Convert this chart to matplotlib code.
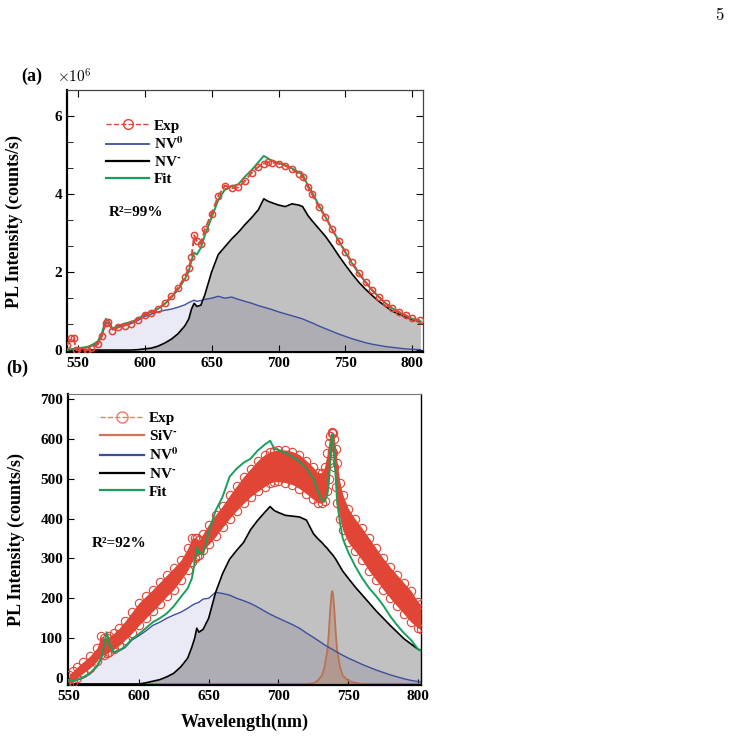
import numpy as np
import matplotlib.pyplot as plt
from matplotlib.lines import Line2D

plt.rcParams['font.family'] = ['Liberation Serif', 'DejaVu Serif']
plt.rcParams['font.weight'] = 'bold'
plt.rcParams['axes.labelweight'] = 'bold'
plt.rcParams['mathtext.fontset'] = 'stix'

# ---------------- panel (a) data (intensity in 1e6 counts/s) ----------------
wl_a = [542, 545, 547, 549, 553, 557, 560, 565, 568, 571, 573, 576, 580, 585, 590,
        595, 600, 605, 610, 615, 620, 625, 630, 633, 635, 637, 639, 642, 645, 650,
        655, 660, 665, 670, 675, 680, 685, 689, 692, 695, 700, 705, 710, 715, 718,
        722, 725, 730, 735, 740, 745, 750, 755, 760, 765, 770, 775, 780, 785, 790,
        795, 800, 806]
exp_a = [0.12, 0.30, 0.30, 0.00, -0.03, 0.00, 0.05, 0.15, 0.35, 0.70, 0.72, 0.50, 0.58, 0.63, 0.68,
         0.78, 0.90, 0.95, 1.06, 1.20, 1.38, 1.60, 1.87, 2.10, 2.38, 2.94, 2.80, 2.72, 3.10, 3.50,
         3.95, 4.22, 4.15, 4.17, 4.34, 4.55, 4.70, 4.78, 4.82, 4.81, 4.78, 4.73, 4.64, 4.52, 4.45,
         4.18, 4.00, 3.68, 3.42, 3.10, 2.80, 2.52, 2.25, 1.98, 1.75, 1.54, 1.36, 1.20, 1.07, 0.98,
         0.89, 0.81, 0.76]
fit_a = [0.00, 0.02, 0.03, 0.04, 0.06, 0.08, 0.12, 0.22, 0.42, 0.80, 0.75, 0.55, 0.62, 0.68, 0.72,
         0.80, 0.92, 0.98, 1.06, 1.18, 1.35, 1.55, 1.82, 2.02, 2.30, 2.50, 2.45, 2.62, 2.95, 3.40,
         3.85, 4.12, 4.20, 4.25, 4.45, 4.62, 4.82, 4.98, 4.92, 4.86, 4.80, 4.74, 4.66, 4.56, 4.50,
         4.22, 4.05, 3.72, 3.42, 3.10, 2.80, 2.50, 2.22, 1.96, 1.74, 1.53, 1.36, 1.20, 1.07, 0.97,
         0.88, 0.80, 0.74]
nv0_a = [0.00, 0.02, 0.03, 0.03, 0.05, 0.07, 0.10, 0.18, 0.35, 0.72, 0.68, 0.52, 0.58, 0.63, 0.68,
         0.76, 0.86, 0.92, 0.98, 1.02, 1.05, 1.10, 1.16, 1.22, 1.25, 1.28, 1.25, 1.27, 1.30, 1.33,
         1.38, 1.33, 1.36, 1.30, 1.25, 1.20, 1.14, 1.10, 1.07, 1.04, 0.98, 0.93, 0.88, 0.83, 0.80,
         0.74, 0.70, 0.62, 0.55, 0.48, 0.41, 0.35, 0.29, 0.24, 0.19, 0.15, 0.12, 0.09, 0.07, 0.05,
         0.03, 0.02, 0.01]
nvm_a = [0.00, 0.00, 0.00, 0.00, 0.00, 0.00, 0.00, 0.00, 0.00, 0.00, 0.00, 0.00, 0.00, 0.00, 0.00,
         0.01, 0.03, 0.05, 0.10, 0.18, 0.28, 0.42, 0.62, 0.80, 1.05, 1.20, 1.12, 1.15, 1.42, 2.00,
         2.45, 2.65, 2.85, 3.02, 3.22, 3.40, 3.60, 3.88, 3.82, 3.78, 3.72, 3.68, 3.75, 3.72, 3.68,
         3.45, 3.32, 3.12, 2.92, 2.68, 2.42, 2.18, 1.95, 1.74, 1.56, 1.40, 1.25, 1.12, 1.00, 0.92,
         0.85, 0.78, 0.73]

# ---------------- panel (b) data (counts/s) ----------------
wl_b = [550, 553, 556, 560, 565, 570, 573, 575, 577, 579, 582, 586, 590, 595, 600,
        605, 610, 615, 620, 625, 630, 635, 638, 640, 641.5, 643, 646, 650, 655, 660,
        665, 670, 675, 680, 685, 690, 694, 697, 700, 705, 710, 715, 720, 725, 728,
        731, 733, 735, 736, 737, 738, 738.5, 739, 740, 741, 742, 744, 746, 750, 755,
        760, 765, 770, 775, 780, 785, 790, 795, 800, 802]
exp_lo_b = [-18, -10, 0, 12, 25, 42, 60, 58, 62, 66, 72, 82, 95, 112, 132,
            150, 168, 186, 205, 222, 245, 270, 292, 300, 305, 308, 320, 335, 355, 378,
            400, 420, 438, 455, 468, 480, 490, 492, 493, 490, 485, 475, 462, 448, 440,
            438, 445, 470, 500, 540, 565, 570, 565, 530, 480, 440, 400, 370, 340, 318,
            295, 268, 245, 222, 200, 180, 160, 140, 125, 122]
exp_hi_b = [8, 18, 28, 40, 55, 75, 105, 100, 100, 105, 112, 125, 142, 165, 188,
            205, 222, 240, 258, 276, 295, 325, 350, 352, 350, 345, 362, 385, 410, 432,
            458, 482, 505, 525, 545, 560, 568, 570, 572, 572, 568, 560, 545, 528, 515,
            515, 530, 565, 590, 608, 615, 618, 615, 600, 575, 540, 490, 460, 425, 398,
            375, 350, 325, 300, 278, 258, 238, 218, 190, 185]
fit_b = [-8, -6, -4, 2, 12, 30, 50, 80, 115, 85, 65, 70, 78, 98, 110,
         125, 140, 150, 162, 180, 203, 225, 250, 290, 328, 315, 310, 365, 420, 455,
         505, 525, 540, 550, 570, 585, 595, 575, 572, 565, 555, 543, 525, 500, 470,
         448, 442, 460, 490, 540, 600, 612, 600, 550, 500, 440, 390, 350, 315, 280,
         250, 225, 205, 182, 155, 132, 112, 95, 72, 68]
nv0_b = [-10, -8, -5, 0, 10, 28, 48, 72, 95, 80, 63, 68, 76, 95, 106,
         118, 132, 140, 150, 158, 165, 175, 182, 186, 188, 190, 198, 200, 215, 212,
         208, 200, 194, 187, 178, 168, 160, 155, 150, 142, 134, 125, 113, 102, 95,
         88, 83, 79, 77, 75, 73, 72, 71, 69, 67, 65, 61, 57, 50, 42,
         34, 27, 20, 14, 8, 3, -2, -6, -9, -10]
nvm_b = [-15, -15, -15, -15, -15, -15, -15, -15, -15, -15, -15, -15, -15, -15, -15,
         -12, -8, -4, 3, 12, 28, 50, 78, 100, 125, 115, 122, 150, 215, 262,
         298, 320, 340, 372, 395, 415, 430, 420, 415, 408, 406, 404, 396, 362, 350,
         340, 332, 325, 320, 316, 312, 310, 308, 303, 298, 292, 280, 268, 250, 228,
         208, 188, 168, 150, 132, 115, 98, 85, 72, 70]
siv_b = [-15, -15, -15, -15, -15, -15, -15, -15, -15, -15, -15, -15, -15, -15, -15,
         -15, -15, -15, -15, -15, -15, -15, -15, -15, -15, -15, -15, -15, -15, -15,
         -15, -15, -15, -15, -15, -15, -15, -15, -15, -15, -15, -15, -15, -13, -7,
         6, 28, 70, 112, 170, 212, 218, 212, 170, 112, 70, 28, 6, -7, -12,
         -15, -15, -15, -15, -15, -15, -15, -15, -15, -15]

RED = '#e04535'
BLUE = '#3d4f9c'
GREEN = '#18a05a'
SIV = '#b97352'
LAV = '#e9eaf6'
GRAY = '#c1c1c1'
DARK = '#aeadb4'

NV0 = r'NV$^{\mathbf{0}}$'
NVM = 'NV$^{\\mathbf{\u2010}}$'
SIVM = 'SiV$^{\\mathbf{\u2010}}$'

fig = plt.figure(figsize=(7.32, 7.45), dpi=100)

# ---------------- (a) ----------------
ax = fig.add_axes([0.0915, 0.5275, 0.4865, 0.3515])
wa = np.array(wl_a)
nv0 = np.array(nv0_a)
nvm = np.array(nvm_a)
ax.fill_between(wa, 0, nv0, color=LAV, lw=0)
ax.fill_between(wa, 0, nvm, color=GRAY, lw=0)
ax.fill_between(wa, 0, np.minimum(nv0, nvm), color=DARK, lw=0)
ax.plot(wa, nv0, color=BLUE, lw=1.0)
ax.plot(wa, nvm, color='black', lw=1.2)
ax.plot(wa, fit_a, color=GREEN, lw=1.4, zorder=4)
ax.plot(wa, exp_a, '--o', color=RED, mfc='none', mec=RED, ms=4.5, mew=1.1, lw=1.4, zorder=5)

ax.set_xlim(542, 808)
ax.set_ylim(-0.05, 6.63)
ax.set_xticks([550, 600, 650, 700, 750, 800])
ax.set_yticks([0, 2, 4, 6])
ax.set_yticks(np.arange(0, 6.7, 2 / 3), minor=True)
ax.tick_params(which='both', direction='in', top=True, right=True, labelsize=11)
ax.tick_params(which='major', length=5)
ax.tick_params(which='minor', length=4)
for s in ['left', 'bottom']:
    ax.spines[s].set_linewidth(1.6)
for s in ['top', 'right']:
    ax.spines[s].set_linewidth(0.9)
    ax.spines[s].set_color('#444444')
ax.set_ylabel('PL Intensity (counts/s)', fontsize=13)
ax.yaxis.set_label_coords(-0.124, 0.5)
ax.text(0.194, 0.534, 'R²=99%', transform=ax.transAxes, ha='center', va='center', fontsize=11)

handles_a = [Line2D([], [], color=RED, ls='--', marker='o', mfc='none', mec=RED, ms=7, lw=1.0),
             Line2D([], [], color=BLUE, lw=1.3),
             Line2D([], [], color='black', lw=1.6),
             Line2D([], [], color=GREEN, lw=1.6)]
ax.legend(handles_a, ['Exp', NV0, NVM, 'Fit'],
          loc='upper left', bbox_to_anchor=(0.11, 0.89), frameon=False, fontsize=11,
          handlelength=2.8, handletextpad=0.3, labelspacing=0.2, borderpad=0, borderaxespad=0)

fig.text(32 / 732, 1 - 76 / 745, '(a)', fontsize=13, ha='center', va='center')
fig.text(74 / 732, 1 - 77 / 745, r'$\times10^6$', fontsize=11, ha='center', va='center',
         math_fontfamily='cm')
fig.text(720 / 732, 1 - 15 / 745, r'$5$', fontsize=12, ha='center', va='center',
         math_fontfamily='cm')

# ---------------- (b) ----------------
bx = fig.add_axes([0.0929, 0.0805, 0.4822, 0.3905])
wb = np.array(wl_b)
nv0 = np.array(nv0_b)
nvm = np.array(nvm_b)
base = -15
bx.fill_between(wb, base, nv0, color=LAV, lw=0)
bx.fill_between(wb, base, nvm, color=GRAY, lw=0)
bx.fill_between(wb, base, np.minimum(nv0, nvm), color=DARK, lw=0)
bx.fill_between(wb, base, siv_b, color=SIV, alpha=0.35, lw=0)
bx.plot(wb, siv_b, color=SIV, lw=1.3)
bx.plot(wb, nv0, color=BLUE, lw=1.0)
bx.plot(wb, nvm, color='black', lw=1.2)
bx.fill_between(wb, exp_lo_b, exp_hi_b, color=RED, lw=0, zorder=3)
bx.plot(wb, exp_lo_b, 'o', mfc='none', mec=RED, ms=6, mew=0.8, zorder=3)
bx.plot(wb, exp_hi_b, 'o', mfc='none', mec=RED, ms=6, mew=0.8, zorder=3)
bx.plot(wb, fit_b, color=GREEN, lw=1.4, zorder=4)

bx.set_xlim(549.3, 802)
bx.set_ylim(-17.5, 712)
bx.set_xticks([550, 600, 650, 700, 750, 800])
bx.set_yticks(range(0, 701, 100))
bx.tick_params(direction='in', length=4, labelsize=11)
for s in ['left', 'bottom']:
    bx.spines[s].set_linewidth(1.6)
bx.spines['top'].set_linewidth(0.8)
bx.spines['top'].set_color('#777777')
bx.spines['right'].set_linewidth(1.0)
bx.set_ylabel('PL Intensity (counts/s)', fontsize=13)
bx.yaxis.set_label_coords(-0.122, 0.5)
bx.set_xlabel('Wavelength(nm)', fontsize=13, labelpad=8)
bx.text(0.144, 0.485, 'R²=92%', transform=bx.transAxes, ha='center', va='center', fontsize=11)

LRED = '#f07a6a'
handles_b = [Line2D([], [], color=LRED, ls='--', marker='o', mfc='none', mec=LRED, ms=8, lw=1.0),
             Line2D([], [], color='#cf7658', lw=1.6),
             Line2D([], [], color=BLUE, lw=1.6),
             Line2D([], [], color='black', lw=1.6),
             Line2D([], [], color=GREEN, lw=1.6)]
bx.legend(handles_b, ['Exp', SIVM, NV0, NVM, 'Fit'],
          loc='upper left', bbox_to_anchor=(0.09, 0.94), frameon=False, fontsize=11,
          handlelength=2.9, handletextpad=0.3, labelspacing=0.25, borderpad=0, borderaxespad=0)

fig.text(17 / 732, 1 - 368 / 745, '(b)', fontsize=13, ha='center', va='center')

fig.savefig('out.png', dpi=100)
